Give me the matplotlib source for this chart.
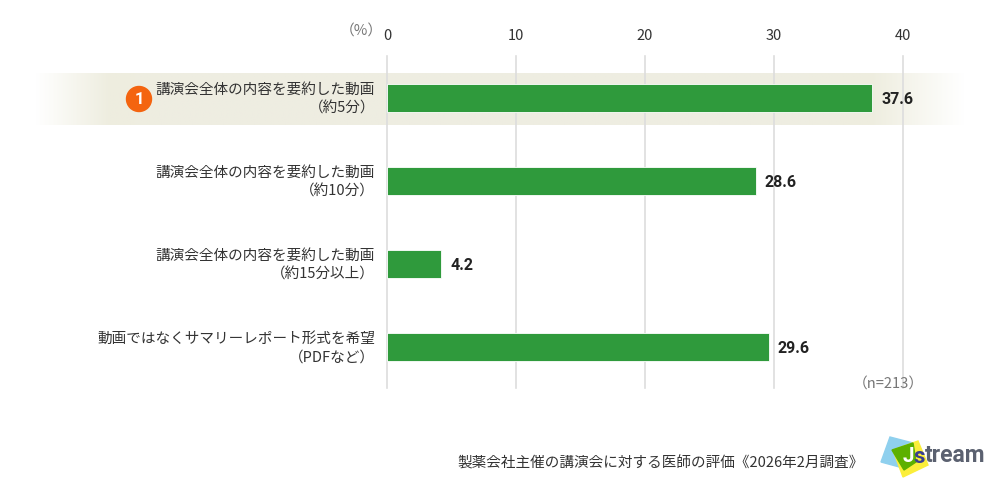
import numpy as np
import matplotlib
matplotlib.use('Agg')
import matplotlib.pyplot as plt
from matplotlib.patches import Polygon, Circle
from matplotlib.colors import LinearSegmentedColormap

plt.rcParams['font.family'] = ['Noto Sans CJK JP', 'DejaVu Sans']

categories = ['講演会全体の内容を要約した動画\n（約5分）',
              '講演会全体の内容を要約した動画\n（約10分）',
              '講演会全体の内容を要約した動画\n（約15分以上）',
              '動画ではなくサマリーレポート形式を希望\n（PDFなど）']
values = [37.6, 28.6, 4.2, 29.6]
ticks = [0, 10, 20, 30, 40]
footer = '製薬会社主催の講演会に対する医師の評価《2026年2月調査》'
n_label = '（n=213）'

W, H = 1000, 483
fig = plt.figure(figsize=(W/100, H/100), dpi=100, facecolor='white')

# pixel-coordinate background layer
bg = fig.add_axes([0, 0, 1, 1], zorder=0)
bg.set_xlim(0, W); bg.set_ylim(H, 0); bg.axis('off')
band = LinearSegmentedColormap.from_list('b', ['#ffffff', '#eeeddf', '#eeede2', '#eeeddf', '#ffffff'])
stops = np.interp(np.linspace(0, 1, 600), [0, .16, .5, .80, 1], [0, .5, .5, .5, 1])
bg.imshow(stops[None, :], cmap=band, vmin=0, vmax=1, aspect='auto',
          extent=[35, 965, 125, 73], zorder=0)
bg.set_xlim(0, W); bg.set_ylim(H, 0)

# chart
ax = fig.add_axes([387/W, 1-388/H, (903-387)/W, (388-56)/H], zorder=1)
ax.patch.set_alpha(0)
ax.set_xlim(0, 40)
ax.set_ylim(3.494, -0.506)
for s in ax.spines.values():
    s.set_visible(False)
ax.xaxis.tick_top()
ax.set_xticks(ticks)
ax.set_xticklabels([str(t) for t in ticks], fontsize=10.5, color='#333333')
ax.tick_params(axis='x', length=0, pad=9.5)
ax.grid(axis='x', color='#dddddd', lw=1.2, zorder=0)
for gl in ax.get_xgridlines():
    gl.set_snap(False)
    gl.set_clip_on(False)
ax.set_axisbelow(True)
y = np.arange(len(values))
ax.barh(y, values, height=0.345, color='#2f9a3c', edgecolor='white', lw=0.6, zorder=2)
ax.set_yticks(y)
ax.set_yticklabels([])
ax.tick_params(axis='y', length=0)
for yi, v in zip(y, values):
    ax.annotate(f'{v}', (v, yi), xytext=(6.5, -1), textcoords='offset points',
                va='center', ha='left', fontsize=11.5, fontweight='bold',
                color='#222222', zorder=3, family=['Roboto', 'DejaVu Sans'])

# overlay for annotation in pixel coordinates
ov = fig.add_axes([0, 0, 1, 1], zorder=2)
ov.set_xlim(0, W); ov.set_ylim(H, 0); ov.axis('off'); ov.patch.set_alpha(0)
for yi, lab in zip(y, categories):
    a, b = lab.split('\n')
    cy = 98 + 83*yi
    ov.text(375, cy-8, a, ha='right', va='center', fontsize=10.5, color='#333333')
    ov.text(375, cy+10.5, b, ha='right', va='center', fontsize=10.5, color='#333333')
ov.text(361, 32, '（%）', ha='center', va='center', fontsize=10.6, color='#777777')
ov.text(888, 385, n_label, ha='center', va='center', fontsize=10.6, color='#777777')
ov.text(661, 463, footer, ha='center', va='center', fontsize=10.5, color='#333333')

# rank badge
ov.add_patch(Circle((139, 99), 12.5, color='#f4640f', zorder=3))
ov.text(139, 99, '1', ha='center', va='center', fontsize=12, fontweight='bold',
        color='white', zorder=4, family=['Roboto', 'DejaVu Sans'])

# logo
ov.add_patch(Polygon([(890, 437), (913, 443), (903, 468), (881, 462)], color='#8fd0ee', zorder=3))
ov.add_patch(Polygon([(918, 441), (928, 465), (903, 477), (893, 450)], color='#fbee3a', zorder=4))
ov.add_patch(Polygon([(892, 450), (913, 443), (916, 462), (904, 470)], color='#5cb000', zorder=5))
ov.text(908, 456, 'J', ha='center', va='center', fontsize=15, fontweight='bold', color='white',
        zorder=6, family=['Roboto', 'DejaVu Sans'])
ov.text(919, 457, 's', ha='center', va='center', fontsize=16, fontweight='bold', color='#3a3f8f',
        zorder=6, family=['Roboto', 'DejaVu Sans'])
ov.text(925, 456, 'tream', ha='left', va='center', fontsize=16.5, fontweight='bold', color='#5b6170',
        zorder=6, family=['Roboto', 'DejaVu Sans'])

fig.savefig('out.png', dpi=100)
